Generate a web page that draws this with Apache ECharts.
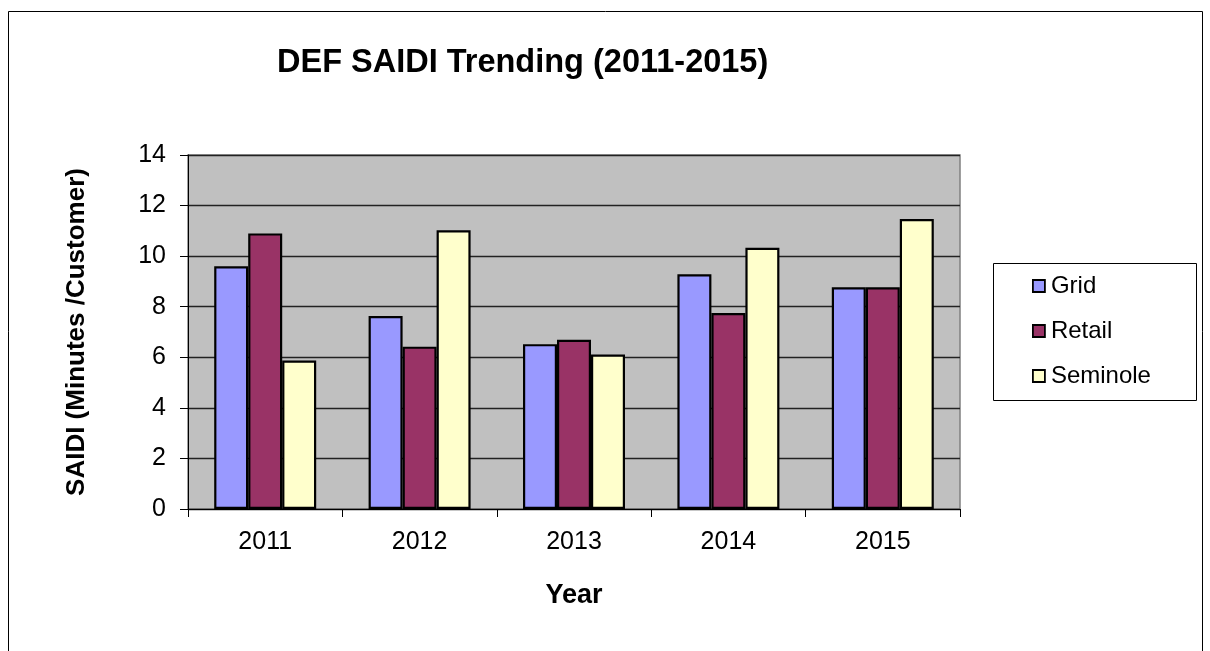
<!DOCTYPE html>
<html><head><meta charset="utf-8">
<script src="https://cdn.jsdelivr.net/npm/echarts@6/dist/echarts.min.js"></script>
<style>html,body{margin:0;padding:0;background:#fff}#c{width:1210px;height:651px}</style>
</head><body><div id="c"></div>
<script>
const categories = ['2011','2012','2013','2014','2015'];
const gridVals = [9.60, 7.63, 6.52, 9.28, 8.77];
const retailVals = [10.90, 6.42, 6.69, 7.75, 8.77];
const seminoleVals = [5.87, 11.02, 6.11, 10.33, 11.47];
const yTicks = [0, 2, 4, 6, 8, 10, 12, 14];

const font = '"Liberation Sans", Arial, sans-serif';
const chart = echarts.init(document.getElementById('c'));
const mk = (name, data, color) => ({
  name, type: 'bar', data, barWidth: 34, barGap: '0%',
  itemStyle: { color, borderColor: '#000', borderWidth: 2.2 }
});
chart.setOption({
  animation: false,
  textStyle: { fontFamily: font },
  title: { text: 'DEF SAIDI Trending (2011-2015)', left: 272, top: 42,
    textStyle: { fontFamily: font, fontSize: 32.5, fontWeight: 'bold', color: '#000' } },
  graphic: [
    { type: 'rect', shape: { x: 8.5, y: 11.5, width: 1194, height: 660 }, style: { fill: null, stroke: '#000', lineWidth: 1 }, z: -10 },
    { type: 'rect', shape: { x: 993.5, y: 263.5, width: 203, height: 137 }, style: { fill: '#fff', stroke: '#000', lineWidth: 1 }, z: 0 }
  ],
  legend: {
    orient: 'vertical', left: 1027, top: 269, itemGap: 21, itemWidth: 12, itemHeight: 12, icon: 'rect',
    textStyle: { fontFamily: font, fontSize: 24, color: '#000', padding: [0, 0, 0, 1] },
    itemStyle: { borderColor: '#000', borderWidth: 1.8 },
    data: ['Grid', 'Retail', 'Seminole'], z: 5
  },
  grid: { left: 188, right: 250, top: 155, bottom: 142, show: true, backgroundColor: '#c0c0c0', borderColor: '#808080', borderWidth: 1.5 },
  xAxis: {
    type: 'category', data: categories,
    name: 'Year', nameLocation: 'middle', nameGap: 73,
    nameTextStyle: { fontFamily: font, fontSize: 27, fontWeight: 'bold', color: '#000' },
    axisLine: { lineStyle: { color: '#000', width: 1 } },
    axisTick: { show: true, length: 8, lineStyle: { color: '#000' } },
    axisLabel: { fontFamily: font, fontSize: 25, color: '#000', margin: 21 }
  },
  yAxis: {
    type: 'value', min: yTicks[0], max: yTicks[yTicks.length - 1], interval: 2,
    name: 'SAIDI (Minutes /Customer)', nameLocation: 'middle', nameGap: 98,
    nameTextStyle: { fontFamily: font, fontSize: 26, fontWeight: 'bold', color: '#000' },
    axisLine: { show: true, lineStyle: { color: '#000', width: 1 } },
    axisTick: { show: true, length: 8, lineStyle: { color: '#000' } },
    axisLabel: { fontFamily: font, fontSize: 25, color: '#000', margin: 22 },
    splitLine: { lineStyle: { color: '#222', width: 1.3 } }
  },
  series: [
    mk('Grid', gridVals, '#9999ff'),
    mk('Retail', retailVals, '#993366'),
    mk('Seminole', seminoleVals, '#ffffcc')
  ]
});
</script></body></html>
